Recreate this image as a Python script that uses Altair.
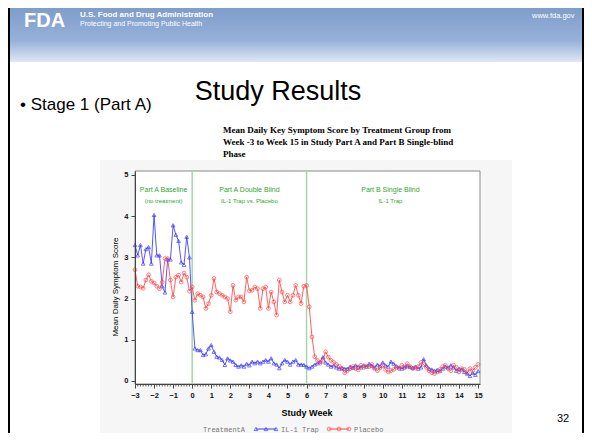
import altair as alt
import pandas as pd

# ---------------- data ----------------
# daily means; baseline = days -21..-1, partA = days 0..42, transition = days 43..56, partB = days 57..105
blue_baseline = [3.3, 3.05, 3.3, 2.85, 3.2, 3.25, 2.85, 4.03, 3.05, 3.05, 2.3, 2.15, 2.95, 2.95,
                 3.78, 3.55, 3.4, 2.88, 2.82, 3.5, 3.0]
blue_partA = [1.68, 0.79, 0.75, 0.75, 0.63, 0.65, 0.79, 0.87, 0.71, 0.59, 0.57, 0.51, 0.39, 0.55,
              0.5, 0.47, 0.39, 0.35, 0.38, 0.35, 0.42, 0.38, 0.47, 0.43, 0.47, 0.43, 0.47, 0.51,
              0.47, 0.55, 0.43, 0.4, 0.31, 0.43, 0.51, 0.47, 0.4, 0.47, 0.51, 0.4, 0.4, 0.39, 0.35]
blue_transition = [0.31, 0.35, 0.4, 0.43, 0.47, 0.58, 0.45, 0.4, 0.35, 0.38, 0.33, 0.3, 0.32, 0.3]
blue_partB = [0.3, 0.35, 0.32, 0.38, 0.35, 0.33, 0.38,
              0.35, 0.42, 0.37, 0.33, 0.4, 0.36, 0.45,
              0.38, 0.35, 0.47, 0.42, 0.36, 0.33, 0.3,
              0.33, 0.36, 0.34, 0.32, 0.35, 0.3, 0.33,
              0.53, 0.38, 0.3, 0.28, 0.25, 0.27, 0.24,
              0.3, 0.35, 0.33, 0.38, 0.33, 0.25, 0.3,
              0.28, 0.22, 0.18, 0.12, 0.2, 0.15, 0.24]

red_baseline = [2.7, 2.3, 2.28, 2.25, 2.45, 2.58, 2.42, 2.38, 2.3, 2.24, 2.4, 2.97, 2.97, 2.45,
                2.04, 2.52, 2.57, 2.4, 2.62, 2.52, 2.18]
red_partA = [2.28, 1.96, 2.12, 2.08, 2.04, 1.76, 1.88, 2.08, 2.49, 2.16, 2.12, 2.08, 2.04, 2.0,
             1.68, 2.32, 1.96, 2.04, 2.04, 1.92, 2.52, 2.19, 2.2, 2.28, 2.24, 1.76, 2.24, 2.28,
             1.76, 2.16, 1.92, 1.6, 2.45, 2.16, 1.92, 2.08, 1.92, 2.08, 2.32, 2.08, 1.88, 2.3, 2.32]
red_transition = [1.8, 1.07, 0.59, 0.5, 0.43, 0.5, 0.71, 0.58, 0.5, 0.45, 0.4, 0.36, 0.3, 0.2]
red_partB = [0.25, 0.3, 0.35, 0.3, 0.27, 0.38, 0.33,
             0.36, 0.35, 0.4, 0.3, 0.25, 0.32, 0.38,
             0.28, 0.22, 0.25, 0.28, 0.33, 0.3, 0.38,
             0.34, 0.42, 0.35, 0.3, 0.32, 0.35, 0.45,
             0.4, 0.33, 0.25, 0.2, 0.18, 0.22, 0.28,
             0.35, 0.38, 0.3, 0.25, 0.38, 0.33, 0.22,
             0.3, 0.28, 0.2, 0.3, 0.25, 0.33, 0.4]

first_day = -21
week_ticks = list(range(-3, 16))
y_ticks = [0, 1, 2, 3, 4, 5]
phase_lines = [0, 6]
phase_labels = ["Part A Baseline", "Part A Double Blind", "Part B Single Blind"]
phase_sublabels = ["(no treatment)", "IL-1 Trap vs. Placebo", "IL-1 Trap"]
phase_centers = [-1.5, 3.0, 10.4]
series_names = ["IL-1 Trap", "Placebo"]

blue = blue_baseline + blue_partA + blue_transition + blue_partB
red = red_baseline + red_partA + red_transition + red_partB
days = list(range(first_day, first_day + len(blue)))
df = pd.DataFrame({
    "week": [d / 7 for d in days] * 2,
    "score": blue + red,
    "group": [series_names[0]] * len(blue) + [series_names[1]] * len(red),
})
minor_df = pd.DataFrame({"week": [d / 7 for d in days if d % 7 != 0]})

# ---------------- layout ----------------
W, H = 345, 213           # plot area (page x 135..480, y 171..384)
OX, OY = 135, 171         # page position of plot origin
def px(x):
    return x - OX
def py(y):
    return y - OY

BLUE = "#3a3aff"
RED = "#ff4545"
GREEN = "#2ea82e"

xs = alt.Scale(domain=[-3, 15.1], nice=False, zero=False)
ys = alt.Scale(domain=[-0.073, 5.097], nice=False, zero=False)

ax_common = dict(title=None, grid=False, tickSize=4, labelFont="Liberation Sans",
                 labelFontWeight="bold", labelFontSize=7.5, labelPadding=3, domainColor="#444",
                 tickColor="#444", labelColor="#111", zindex=1, labelOverlap=False,
                 labelFlush=False)
XAX = alt.Axis(values=week_ticks, **ax_common)
YAX = alt.Axis(values=y_ticks, **ax_common)

one = pd.DataFrame({"a": [0]})

def txt(s, x, y, size, font="Liberation Sans", weight="normal", color="black", align="left",
        angle=0, baseline="alphabetic"):
    return alt.Chart(one).mark_text(
        text=s, fontSize=size, font=font, fontWeight=weight, color=color, align=align,
        angle=angle, baseline=baseline
    ).encode(x=alt.value(px(x)), y=alt.value(py(y)))

def box(x1, y1, x2, y2, color, **kw):
    return alt.Chart(one).mark_rect(color=color, **kw).encode(
        x=alt.value(px(x1)), x2=alt.value(px(x2)), y=alt.value(py(y1)), y2=alt.value(py(y2)))

# slide banner
banner = alt.Chart(one).mark_rect(
    color=alt.Gradient(gradient="linear", x1=0, y1=0, x2=0, y2=1,
                       stops=[alt.GradientStop(color="#7f9dcb", offset=0),
                              alt.GradientStop(color="#96b0d8", offset=0.6),
                              alt.GradientStop(color="#dfe7f3", offset=1)])
).encode(x=alt.value(px(8)), x2=alt.value(px(584)), y=alt.value(py(8)), y2=alt.value(py(62)))

# chart image background and plot area (framed)
img_bg = box(100, 160, 512, 445, "#f6f6f6")
plot_bg = alt.Chart(one).mark_rect(fill="white", stroke="#8a8a8a", strokeWidth=1).encode(
    x=alt.value(0), x2=alt.value(W), y=alt.value(0), y2=alt.value(H))

base = alt.Chart(df).encode(
    x=alt.X("week:Q", scale=xs, axis=XAX),
    y=alt.Y("score:Q", scale=ys, axis=YAX),
    color=alt.Color("group:N", scale=alt.Scale(domain=series_names, range=[BLUE, RED]), legend=None),
)
lines = base.mark_line(strokeWidth=1, opacity=0.85)
blue_pts = base.transform_filter(alt.datum.group == series_names[0]).mark_point(
    shape="triangle-up", size=14, filled=False, strokeWidth=1)
red_pts = base.transform_filter(alt.datum.group == series_names[1]).mark_point(
    shape="circle", size=14, filled=False, strokeWidth=1)

minor = alt.Chart(minor_df).mark_rule(color="#444", strokeWidth=0.8).encode(
    x=alt.X("week:Q", scale=xs, axis=XAX), y=alt.value(H), y2=alt.value(H + 2.5))

vlines = alt.Chart(pd.DataFrame({"week": phase_lines})).mark_rule(
    color="#a6d6a6", strokeWidth=1.5).encode(x=alt.X("week:Q", scale=xs, axis=XAX))

lab_df = pd.DataFrame({"week": phase_centers, "t1": phase_labels, "t2": phase_sublabels})
lab1 = alt.Chart(lab_df).mark_text(fontSize=7, font="Liberation Sans", color=GREEN).encode(
    x=alt.X("week:Q", scale=xs, axis=XAX), y=alt.value(py(190)), text="t1:N")
lab2 = alt.Chart(lab_df).mark_text(fontSize=6, font="Liberation Sans", color=GREEN).encode(
    x=alt.X("week:Q", scale=xs, axis=XAX), y=alt.value(py(201)), text="t2:N")

# legend
leg_parts = [txt("TreatmentA", 203, 432, 7, font="Liberation Mono", color="#777")]
for (x1, x2, col, shp, name, tx) in [(256, 276, BLUE, "triangle-up", series_names[0], 281),
                                     (329, 349, RED, "circle", series_names[1], 354)]:
    leg_parts.append(alt.Chart(one).mark_rule(color=col, strokeWidth=1).encode(
        x=alt.value(px(x1)), x2=alt.value(px(x2)), y=alt.value(py(429))))
    for mx in (x1, (x1 + x2) / 2, x2):
        leg_parts.append(alt.Chart(one).mark_point(
            shape=shp, size=14, filled=False, color=col, strokeWidth=1).encode(
            x=alt.value(px(mx)), y=alt.value(py(429))))
    leg_parts.append(txt(name, tx, 432, 7, font="Liberation Mono", color="#777"))

# slide borders
borders = [box(8, 8, 10, 445, "black"), box(582, 8, 584, 445, "black")]

texts = [
    txt("FDA", 24, 27, 20, weight="bold", color="white"),
    txt("U.S. Food and Drug Administration", 80, 17, 8, weight="bold", color="white"),
    txt("Protecting and Promoting Public Health", 80, 26, 7, color="white"),
    txt("www.fda.gov", 532, 18, 7.5, color="white"),
    txt("Study Results", 278, 100, 27, align="center"),
    txt("\u2022  Stage 1 (Part A)", 20, 110, 17),
    txt("Mean Daily Key Symptom Score by Treatment Group from", 223, 133, 9,
        font="Liberation Serif", weight="bold"),
    txt("Week -3 to Week 15 in Study Part A and Part B Single-blind", 223, 145, 9,
        font="Liberation Serif", weight="bold"),
    txt("Phase", 223, 157, 9, font="Liberation Serif", weight="bold"),
    txt("Mean Daily Symptom Score", 116, 287, 8, angle=270, align="center", baseline="middle"),
    txt("Study Week", 307, 416, 9, weight="bold", align="center"),
    txt("32", 563, 422, 11, align="center"),
]

chart = alt.layer(
    banner, img_bg, plot_bg, *borders, vlines, lab1, lab2, minor, lines, blue_pts, red_pts,
    *leg_parts, *texts
).properties(
    width=W, height=H,
    autosize=alt.AutoSizeParams(type="none"),
    padding={"left": 127, "top": 163, "right": 104, "bottom": 49},
    background="white",
).configure_view(stroke=None)

chart.save("out.html", embed_options={"renderer": "svg", "actions": False})
